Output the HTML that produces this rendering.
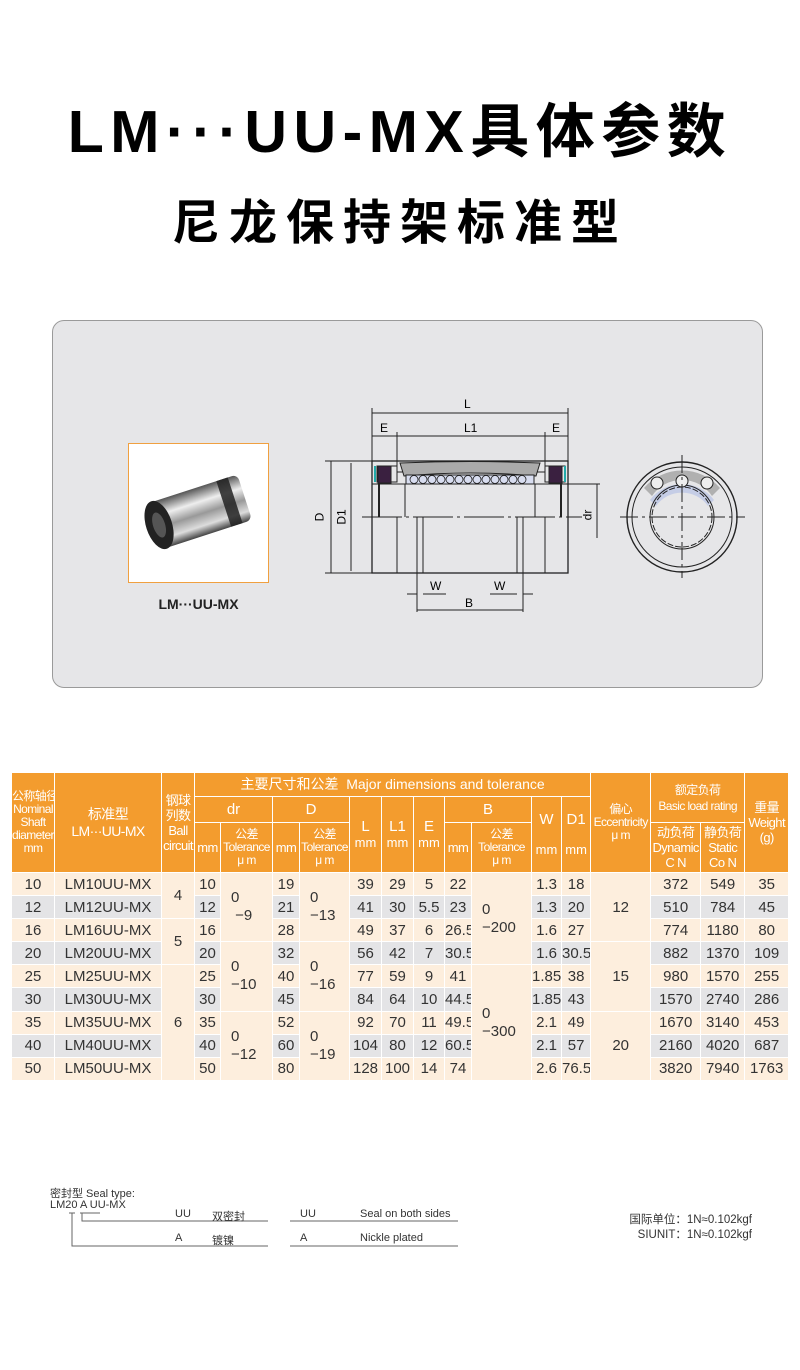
<!DOCTYPE html>
<html><head><meta charset="utf-8"><style>
*{margin:0;padding:0;box-sizing:border-box}
body{width:800px;height:1370px;background:#fff;position:relative;font-family:"Liberation Sans","Noto Sans CJK SC",sans-serif;overflow:hidden}
.abs{position:absolute}
.t1{left:0;width:800px;top:96px;text-align:center;font-size:59px;font-weight:bold;letter-spacing:6.5px;color:#000;line-height:72px}
.t2{left:0;width:800px;top:194px;text-align:center;font-size:48px;font-weight:bold;letter-spacing:9px;color:#000;line-height:60px}
.panel{left:52px;top:320px;width:711px;height:368px;background:#e6e6e8;border:1.5px solid #9a9a9a;border-radius:12px}
.photo{left:128px;top:443px;width:141px;height:140px;background:#fff;border:1.5px solid #f0a040}
table{position:absolute;left:11px;top:772px;border-collapse:collapse;table-layout:fixed;width:777px}
td{border:1px solid #fff;text-align:center;vertical-align:middle;font-size:15px;color:#333;padding:0;overflow:hidden;white-space:nowrap}
.h td{background:#f39c2e;color:#fff;font-size:12px;line-height:13px;letter-spacing:-0.6px}
.h td.big{font-size:15px;letter-spacing:0}
.c td{background:#fdeedd}
.g td{background:#e4e4e6}
td.m{background:#fdeedd!important}
td.tol{text-align:left;padding-left:10px;line-height:18px;font-size:15px}
.b tr{height:23.1px}
.sm{font-size:11px;color:#333}
</style></head><body>
<div class="abs t1">LM···UU-MX具体参数</div>
<div class="abs t2">尼龙保持架标准型</div>
<div class="abs panel"></div>
<div class="abs photo">
<svg width="138" height="137" viewBox="0 0 138 137">
<defs><linearGradient id="mg" x1="0" y1="0" x2="0" y2="1"><stop offset="0" stop-color="#555"/><stop offset="0.3" stop-color="#eee"/><stop offset="0.55" stop-color="#999"/><stop offset="0.8" stop-color="#ddd"/><stop offset="1" stop-color="#444"/></linearGradient></defs>
<g transform="rotate(-18 70 68)">
<rect x="26" y="44" width="92" height="48" rx="6" fill="url(#mg)"/>
<rect x="96" y="44" width="12" height="48" fill="#222" opacity="0.85"/>
<ellipse cx="28" cy="68" rx="13" ry="25" fill="#222"/>
<ellipse cx="28" cy="68" rx="6" ry="13" fill="#555"/>
</g></svg></div>
<div class="abs" style="left:128px;top:596px;width:141px;text-align:center;font-size:14px;font-weight:bold;color:#222">LM···UU-MX</div>

<svg class="abs" style="left:0;top:0" width="800" height="700" viewBox="0 0 800 700" fill="none" stroke="#222" stroke-width="1">
<line x1="372" y1="408" x2="372" y2="461"/><line x1="568" y1="408" x2="568" y2="461"/>
<line x1="372" y1="413" x2="568" y2="413"/>
<line x1="372" y1="436" x2="568" y2="436"/>
<line x1="397" y1="432" x2="397" y2="470"/><line x1="545" y1="432" x2="545" y2="470"/>
<rect x="372" y="461" width="196" height="112" stroke-width="1.3"/>
<path d="M397 472 L545 472 M377 466 L397 466 L397 482 L377 482 Z M545 466 L565 466 L565 482 L545 482 Z" />
<rect x="378" y="466" width="13" height="17" fill="#3a2040"/>
<rect x="549" y="466" width="13" height="17" fill="#3a2040"/>
<line x1="375" y1="466" x2="375" y2="482" stroke="#2aa" stroke-width="2"/><line x1="565" y1="466" x2="565" y2="482" stroke="#2aa" stroke-width="2"/>
<path d="M400 463 Q470 460 540 463 L536 476 Q470 470 404 476 Z" fill="#aaa"/>
<rect x="406" y="475" width="128" height="9" fill="#d8ddf0"/>
<g stroke-width="0.8">
<circle cx="414" cy="479.5" r="4"/><circle cx="423" cy="479.5" r="4"/><circle cx="432" cy="479.5" r="4"/><circle cx="441" cy="479.5" r="4"/><circle cx="450" cy="479.5" r="4"/><circle cx="459" cy="479.5" r="4"/><circle cx="468" cy="479.5" r="4"/><circle cx="477" cy="479.5" r="4"/><circle cx="486" cy="479.5" r="4"/><circle cx="495" cy="479.5" r="4"/><circle cx="504" cy="479.5" r="4"/><circle cx="513" cy="479.5" r="4"/><circle cx="522" cy="479.5" r="4"/></g>
<line x1="372" y1="484" x2="568" y2="484"/>
<line x1="379" y1="484" x2="379" y2="517" stroke-width="2"/><line x1="561" y1="484" x2="561" y2="517" stroke-width="2"/>
<line x1="405" y1="484" x2="405" y2="517"/><line x1="535" y1="484" x2="535" y2="517"/>
<line x1="362" y1="517" x2="582" y2="517" stroke-dasharray="40 4 3 4"/>
<line x1="397" y1="517" x2="397" y2="573"/><line x1="545" y1="517" x2="545" y2="573"/>
<line x1="417" y1="517" x2="417" y2="612"/><line x1="423" y1="517" x2="423" y2="573"/>
<line x1="517" y1="517" x2="517" y2="573"/><line x1="523" y1="517" x2="523" y2="612"/>
<line x1="325" y1="461" x2="372" y2="461"/><line x1="325" y1="573" x2="372" y2="573"/>
<line x1="331" y1="461" x2="331" y2="573"/><line x1="351" y1="463" x2="351" y2="571"/>
<line x1="568" y1="484" x2="600" y2="484"/><line x1="597" y1="484" x2="597" y2="538"/>
<line x1="407" y1="594" x2="417" y2="594"/><line x1="423" y1="594" x2="446" y2="594"/>
<line x1="490" y1="594" x2="517" y2="594"/><line x1="523" y1="594" x2="533" y2="594"/>
<line x1="417" y1="610" x2="523" y2="610"/>
<circle cx="682" cy="517" r="55" stroke-width="1.4"/>
<circle cx="682" cy="517" r="50"/>
<path d="M644 488 A50 50 0 0 1 720 488 L712 496 A36 36 0 0 0 652 496 Z" fill="#b0b0b0" stroke="none"/>
<path d="M650 500 A40 40 0 0 1 714 500 L708 506 A32 32 0 0 0 656 506 Z" fill="#c5cde6" stroke="none"/>
<circle cx="682" cy="517" r="32"/>
<circle cx="682" cy="517" r="30" stroke-dasharray="6 2"/>
<circle cx="657" cy="483" r="6" fill="#eee"/><circle cx="682" cy="481" r="6" fill="#eee"/><circle cx="707" cy="483" r="6" fill="#eee"/>
<line x1="620" y1="517" x2="745" y2="517" stroke-dasharray="18 4 3 4"/>
<line x1="682" y1="455" x2="682" y2="578" stroke-dasharray="18 4 3 4"/>
</svg>
<div class="abs" style="left:464px;top:397px;font-size:12px">L</div>
<div class="abs" style="left:380px;top:421px;font-size:12px">E</div>
<div class="abs" style="left:464px;top:421px;font-size:12px">L1</div>
<div class="abs" style="left:552px;top:421px;font-size:12px">E</div>
<div class="abs" style="left:315px;top:510px;font-size:12px;transform:rotate(-90deg)">D</div>
<div class="abs" style="left:334px;top:510px;font-size:12px;transform:rotate(-90deg)">D1</div>
<div class="abs" style="left:582px;top:508px;font-size:12px;transform:rotate(-90deg)">dr</div>
<div class="abs" style="left:430px;top:579px;font-size:12px">W</div>
<div class="abs" style="left:494px;top:579px;font-size:12px">W</div>
<div class="abs" style="left:465px;top:596px;font-size:12px">B</div>

<table>
<colgroup><col style="width:43px"><col style="width:107px"><col style="width:33px"><col style="width:26px"><col style="width:52px"><col style="width:27px"><col style="width:50px"><col style="width:32px"><col style="width:32px"><col style="width:31px"><col style="width:27px"><col style="width:60px"><col style="width:30px"><col style="width:29px"><col style="width:60px"><col style="width:50px"><col style="width:44px"><col style="width:44px"></colgroup>
<tbody class="h">
<tr style="height:24px"><td rowspan="3">公称轴径<br>Nominal<br>Shaft<br>diameter<br>mm</td><td rowspan="3" style="font-size:14px;line-height:17px">标准型<br>LM···UU-MX</td><td rowspan="3" style="font-size:13px;line-height:15px">钢球<br>列数<br>Ball<br>circuit</td><td colspan="11" class="big" style="font-size:14px">主要尺寸和公差&nbsp; Major dimensions and tolerance</td><td rowspan="3">偏心<br>Eccentricity<br>μ m</td><td colspan="2" rowspan="2" style="line-height:16px">额定负荷<br>Basic load rating</td><td rowspan="3" style="font-size:13px;line-height:15px">重量<br>Weight<br>(g)</td></tr>
<tr style="height:26px"><td colspan="2" class="big">dr</td><td colspan="2" class="big">D</td><td rowspan="2" class="big" style="line-height:16px">L<br><span style="font-size:13px">mm</span></td><td rowspan="2" class="big" style="line-height:16px">L1<br><span style="font-size:13px">mm</span></td><td rowspan="2" class="big" style="line-height:16px">E<br><span style="font-size:13px">mm</span></td><td colspan="2" class="big">B</td><td rowspan="2" class="big" style="line-height:30px">W<br><span style="font-size:13px">mm</span></td><td rowspan="2" class="big" style="line-height:30px">D1<br><span style="font-size:13px">mm</span></td></tr>
<tr style="height:50px"><td style="font-size:13px">mm</td><td>公差<br>Tolerance<br>μ m</td><td style="font-size:13px">mm</td><td>公差<br>Tolerance<br>μ m</td><td style="font-size:13px">mm</td><td>公差<br>Tolerance<br>μ m</td><td style="font-size:13px;line-height:15px">动负荷<br>Dynamic<br>C N</td><td style="font-size:13px;line-height:15px">静负荷<br>Static<br>Co N</td></tr>
</tbody>
<tbody class="b">
<tr class="c"><td>10</td><td>LM10UU-MX</td><td rowspan="2" class="m">4</td><td>10</td><td rowspan="3" class="m tol">0<br>&nbsp;−9</td><td>19</td><td rowspan="3" class="m tol">0<br>−13</td><td>39</td><td>29</td><td>5</td><td>22</td><td rowspan="4" class="m tol">0<br>−200</td><td>1.3</td><td>18</td><td rowspan="3" class="m">12</td><td>372</td><td>549</td><td>35</td></tr>
<tr class="g"><td>12</td><td>LM12UU-MX</td><td>12</td><td>21</td><td>41</td><td>30</td><td>5.5</td><td>23</td><td>1.3</td><td>20</td><td>510</td><td>784</td><td>45</td></tr>
<tr class="c"><td>16</td><td>LM16UU-MX</td><td rowspan="2" class="m">5</td><td>16</td><td>28</td><td>49</td><td>37</td><td>6</td><td>26.5</td><td>1.6</td><td>27</td><td>774</td><td>1180</td><td>80</td></tr>
<tr class="g"><td>20</td><td>LM20UU-MX</td><td>20</td><td rowspan="3" class="m tol">0<br>−10</td><td>32</td><td rowspan="3" class="m tol">0<br>−16</td><td>56</td><td>42</td><td>7</td><td>30.5</td><td>1.6</td><td>30.5</td><td rowspan="3" class="m">15</td><td>882</td><td>1370</td><td>109</td></tr>
<tr class="c"><td>25</td><td>LM25UU-MX</td><td rowspan="5" class="m">6</td><td>25</td><td>40</td><td>77</td><td>59</td><td>9</td><td>41</td><td rowspan="5" class="m tol">0<br>−300</td><td>1.85</td><td>38</td><td>980</td><td>1570</td><td>255</td></tr>
<tr class="g"><td>30</td><td>LM30UU-MX</td><td>30</td><td>45</td><td>84</td><td>64</td><td>10</td><td>44.5</td><td>1.85</td><td>43</td><td>1570</td><td>2740</td><td>286</td></tr>
<tr class="c"><td>35</td><td>LM35UU-MX</td><td>35</td><td rowspan="3" class="m tol">0<br>−12</td><td>52</td><td rowspan="3" class="m tol">0<br>−19</td><td>92</td><td>70</td><td>11</td><td>49.5</td><td>2.1</td><td>49</td><td rowspan="3" class="m">20</td><td>1670</td><td>3140</td><td>453</td></tr>
<tr class="g"><td>40</td><td>LM40UU-MX</td><td>40</td><td>60</td><td>104</td><td>80</td><td>12</td><td>60.5</td><td>2.1</td><td>57</td><td>2160</td><td>4020</td><td>687</td></tr>
<tr class="c"><td>50</td><td>LM50UU-MX</td><td>50</td><td>80</td><td>128</td><td>100</td><td>14</td><td>74</td><td>2.6</td><td>76.5</td><td>3820</td><td>7940</td><td>1763</td></tr>
</tbody></table>

<div class="abs sm" style="left:50px;top:1185px">密封型 Seal type:</div>
<div class="abs sm" style="left:50px;top:1199px">LM20 A UU-MX</div>
<svg class="abs" style="left:0;top:1200px" width="800" height="60" fill="none" stroke="#666" stroke-width="1">
<line x1="69" y1="13" x2="75" y2="13"/><line x1="80" y1="13" x2="100" y2="13"/>
<polyline points="72,13 72,46 268,46"/><polyline points="82,13 82,21 268,21"/>
<line x1="290" y1="21" x2="458" y2="21"/><line x1="290" y1="46" x2="458" y2="46"/>
</svg>
<div class="abs sm" style="left:175px;top:1208px">UU</div><div class="abs sm" style="left:212px;top:1208px">双密封</div>
<div class="abs sm" style="left:300px;top:1208px">UU</div><div class="abs sm" style="left:360px;top:1208px">Seal on both sides</div>
<div class="abs sm" style="left:175px;top:1232px">A</div><div class="abs sm" style="left:212px;top:1232px">镀镍</div>
<div class="abs sm" style="left:300px;top:1232px">A</div><div class="abs sm" style="left:360px;top:1232px">Nickle plated</div>
<div class="abs" style="right:48px;top:1213px;font-size:11.5px;color:#333;text-align:right;line-height:15px">国际单位：1N≈0.102kgf<br>SIUNIT：1N≈0.102kgf</div>
</body></html>
